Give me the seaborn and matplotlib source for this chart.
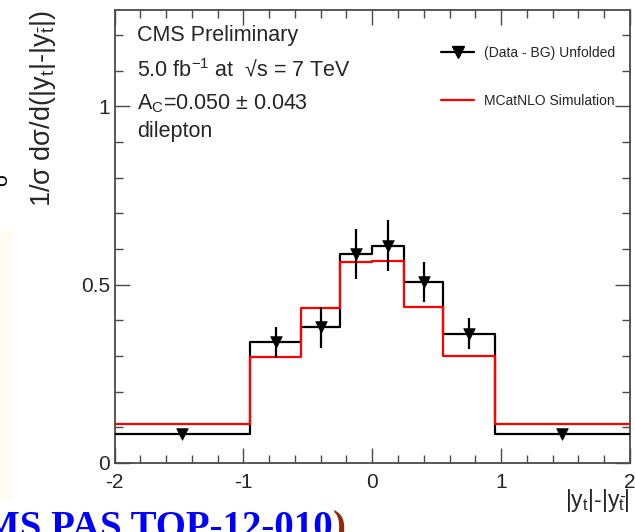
import numpy as np
import pandas as pd
import matplotlib
matplotlib.use("Agg")
import matplotlib.pyplot as plt
import matplotlib.patches as mpatches
from matplotlib.lines import Line2D
from matplotlib.ticker import MultipleLocator, FixedLocator, FixedFormatter
import seaborn as sns

# ---------------- data ----------------
bin_edges = [-2.0, -0.95, -0.55, -0.25, 0.0, 0.25, 0.55, 0.95, 2.0]
data_unfolded = [0.080, 0.338, 0.380, 0.586, 0.609, 0.507, 0.363, 0.080]
data_errors = [0.010, 0.043, 0.057, 0.071, 0.071, 0.057, 0.044, 0.010]
mcatnlo_sim = [0.108, 0.296, 0.435, 0.564, 0.566, 0.437, 0.299, 0.108]
x_tick_values = [-2, -1, 0, 1, 2]
x_tick_labels = ["-2", "-1", "0", "1", "2"]
y_tick_values = [0, 0.5, 1]
y_tick_labels = ["0", "0.5", "1"]

sns.set_style("ticks")
plt.rcParams["font.family"] = ["Liberation Sans", "DejaVu Sans"]
plt.rcParams["mathtext.fontset"] = "custom"
plt.rcParams["mathtext.rm"] = "Liberation Sans"
plt.rcParams["mathtext.it"] = "Liberation Sans:italic"
plt.rcParams["mathtext.bf"] = "Liberation Sans:bold"

W, H = 635, 532
fig = plt.figure(figsize=(W / 100, H / 100), dpi=100)
fig.patch.set_facecolor("white")

ax_l, ax_r, ax_t, ax_b = 114.5, 630.0, 10.0, 463.0
ax = fig.add_axes([ax_l / W, 1 - ax_b / H, (ax_r - ax_l) / W, (ax_b - ax_t) / H])

edges = np.array(bin_edges)
centers = 0.5 * (edges[:-1] + edges[1:])
df = pd.DataFrame({"x": centers, "data": data_unfolded, "mc": mcatnlo_sim,
                   "err": data_errors})

# black unfolded data histogram
sns.histplot(data=df, x="x", weights="data", bins=bin_edges, element="step",
             fill=False, color="black", linewidth=1.6, ax=ax, zorder=3)
# red simulation
sns.histplot(data=df, x="x", weights="mc", bins=bin_edges, element="step",
             fill=False, color="#ff0000", linewidth=1.6, ax=ax, zorder=4)
# data points with error bars
ax.errorbar(df["x"], df["data"], yerr=df["err"], fmt="none", ecolor="black",
            elinewidth=1.6, capsize=0, zorder=5)
sns.scatterplot(data=df, x="x", y="data", marker="v", color="black", s=70,
                edgecolor="black", linewidth=0.5, ax=ax, zorder=6)

ax.set_xlim(-2, 2)
ax.set_ylim(0, 1.27)

ax.xaxis.set_major_locator(FixedLocator(x_tick_values))
ax.xaxis.set_major_formatter(FixedFormatter(x_tick_labels))
ax.xaxis.set_minor_locator(MultipleLocator(0.2))
ax.yaxis.set_major_locator(FixedLocator(y_tick_values))
ax.yaxis.set_major_formatter(FixedFormatter(y_tick_labels))
ax.yaxis.set_minor_locator(MultipleLocator(0.1))

spine_col = "#4a4a4a"
for s in ax.spines.values():
    s.set_visible(True)
    s.set_color(spine_col)
    s.set_linewidth(1.3)
ax.tick_params(which="both", direction="in", top=True, right=True,
               color=spine_col, width=1.0)
ax.tick_params(which="major", length=11)
ax.tick_params(which="minor", length=5.8)
ax.tick_params(axis="x", which="major", labelsize=15, pad=7)
ax.tick_params(axis="y", which="major", labelsize=15, pad=3)

ax.set_xlabel(r"|y$_{\mathrm{t}}$|-|y$_{\bar{\mathrm{t}}}$|", fontsize=16.5, loc="right")
ax.xaxis.set_label_coords(1.0, (ax_b - 487) / (ax_b - ax_t))
ax.set_ylabel(r"1/σ dσ/d(|y$_{\mathrm{t}}$|-|y$_{\bar{\mathrm{t}}}$|)", fontsize=19.5, loc="top")
ax.yaxis.set_label_coords((58 - ax_l) / (ax_r - ax_l), 1.0)

# text block
def axx(px):
    return (px - ax_l) / (ax_r - ax_l)

def axy(py):
    return (ax_b - py) / (ax_b - ax_t)

txt_kw = dict(transform=ax.transAxes, fontsize=15.5, ha="left", va="baseline")
ax.text(axx(137), axy(40.7), "CMS Preliminary", **txt_kw)
ax.text(axx(137), axy(76.5), r"5.0 fb$^{-1}$ at  √s = 7 TeV", **txt_kw)
ax.text(axx(137), axy(109.7), r"A$_{\mathrm{C}}$=0.050 ± 0.043", **txt_kw)
ax.text(axx(137), axy(137), "dilepton", **txt_kw)

# legend
handles = [Line2D([], [], color="black", lw=1.6, marker="v", markersize=8),
           Line2D([], [], color="#ff0000", lw=1.6)]
labels = ["(Data - BG) Unfolded", "MCatNLO Simulation"]
ax.legend(handles, labels, loc="upper left", bbox_to_anchor=(axx(441), axy(46)),
          frameon=False, fontsize=10, handlelength=2.4, handletextpad=0.7,
          labelspacing=2.45, borderpad=0, borderaxespad=0)

# slide remnants around the cropped chart
fig.patches.append(mpatches.Rectangle((0, 1 - 500 / H), 12 / W, 270 / H,
                                      transform=fig.transFigure,
                                      facecolor="#fffcf1", edgecolor="none",
                                      zorder=0))
fig.text(2 / W, 1 - 180 / H, "σ", rotation=90, fontsize=15, ha="center",
         va="center", color="black")
fig.text(333 / W, 1 - 538 / H, "CMS PAS TOP-12-010", fontsize=28,
         family=["Liberation Serif", "DejaVu Serif"], fontweight="bold",
         color="#0000ff", ha="right", va="baseline")
fig.text(333 / W, 1 - 538 / H, ")", fontsize=28,
         family=["Liberation Serif", "DejaVu Serif"], fontweight="bold",
         color="#8b2a0a", ha="left", va="baseline")

fig.savefig("out.png", dpi=100)
